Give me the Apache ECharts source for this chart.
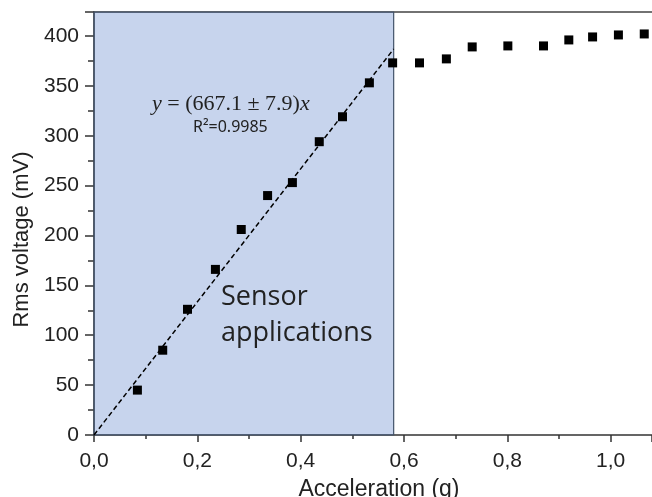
<!DOCTYPE html>
<html>
<head>
<meta charset="utf-8">
<script src="https://cdn.jsdelivr.net/npm/echarts@6/dist/echarts.min.js"></script>
<style>
  html, body { margin: 0; padding: 0; background: #fff; }
  #chart { width: 652px; height: 497px; }
</style>
</head>
<body>
<div id="chart"></div>
<script>
// Measured RMS output voltage vs. applied acceleration
const accelG = [0.084, 0.133, 0.181, 0.235, 0.285, 0.336, 0.384, 0.436, 0.481, 0.533,
                0.578, 0.630, 0.682, 0.732, 0.801, 0.870, 0.919, 0.965, 1.015, 1.065];
const rmsMV  = [45, 85, 126, 166, 206, 240, 253, 294, 319, 353,
                373, 373, 377, 389, 390, 390, 396, 399, 401, 402];

// Linear fit through the origin over the sensor-application range
const fitSlope = 667.1;
const fitRange = [0, 0.58];
const fitR2 = 'R²=0.9985';

// Highlighted linear region
const regionRange = [0, 0.58];
const regionText = ['Sensor', 'applications'];

const xTicks = { min: 0, max: 1.08, interval: 0.2 };
const yTicks = { min: 0, max: 424, interval: 50 };

const fitLine = fitRange.map(x => [x, fitSlope * x]);
const points = accelG.map((x, i) => [x, rmsMV[i]]);

const tickFont = { fontFamily: 'Liberation Sans', fontSize: 21, color: '#222' };
const axisColor = '#333';

const chart = echarts.init(document.getElementById('chart'));
chart.setOption({
  animation: false,
  grid: { left: 94, right: 0, top: 12, bottom: 62, containLabel: false, outerBoundsMode: 'none' },
  xAxis: [{
    type: 'value', min: xTicks.min, max: xTicks.max, interval: xTicks.interval,
    name: 'Acceleration (g)', nameLocation: 'middle', nameGap: 43,
    nameTextStyle: { fontFamily: 'Liberation Sans', fontSize: 23, color: '#222', padding: [0, 0, 0, 12] },
    axisLine: { show: true, lineStyle: { color: axisColor, width: 1.5 } },
    axisTick: { show: true, length: 7, lineStyle: { color: axisColor, width: 1.5 } },
    minorTick: { show: true, splitNumber: 2, length: 4, lineStyle: { color: axisColor, width: 1.5 } },
    splitLine: { show: false },
    axisLabel: Object.assign({
      margin: 16, showMaxLabel: false,
      formatter: v => v.toFixed(1).replace('.', ',')
    }, tickFont)
  }, {
    type: 'value', position: 'top', min: xTicks.min, max: xTicks.max,
    axisLine: { show: true, lineStyle: { color: '#444', width: 1.5 } },
    axisTick: { show: false }, axisLabel: { show: false }, splitLine: { show: false }
  }],
  yAxis: {
    type: 'value', min: yTicks.min, max: yTicks.max, interval: yTicks.interval,
    name: 'Rms voltage (mV)', nameLocation: 'middle', nameGap: 56,
    nameTextStyle: { fontFamily: 'Liberation Sans', fontSize: 22, color: '#222', padding: [0, 32, 0, 0] },
    axisLine: { show: true, lineStyle: { color: axisColor, width: 1.5 } },
    axisTick: { show: true, length: 9, lineStyle: { color: axisColor, width: 1.5 } },
    minorTick: { show: true, splitNumber: 2, length: 6, lineStyle: { color: axisColor, width: 1.5 } },
    splitLine: { show: false },
    axisLabel: Object.assign({ margin: 15, showMaxLabel: false }, tickFont)
  },
  series: [{
    type: 'line', data: fitLine, z: 2,
    symbol: 'none', silent: true,
    lineStyle: { color: '#000', width: 1.5, type: [5, 3] }
  }, {
    type: 'scatter', data: points, z: 2,
    symbol: 'rect', symbolSize: 9,
    itemStyle: { color: '#000', opacity: 1 }
  }, {
    // translucent band laid over the linear-response region
    type: 'line', data: [], z: 4, silent: true,
    markArea: {
      silent: true,
      itemStyle: { color: 'rgba(68,114,196,0.30)', borderColor: '#44546a', borderWidth: 1.2 },
      data: [[{ xAxis: regionRange[0], yAxis: yTicks.max }, { xAxis: regionRange[1], yAxis: yTicks.min }]]
    }
  }],
  graphic: [{
    type: 'text', left: 152, top: 93, z: 10,
    style: {
      text: '{i|y} = (667.1 ± 7.9){i|x}',
      rich: {
        i: { fontFamily: 'Liberation Serif', fontStyle: 'italic', fontSize: 22, fill: '#222' }
      },
      fontFamily: 'Liberation Serif', fontSize: 22, fill: '#222'
    }
  }, {
    type: 'text', left: 193, top: 119, z: 10,
    style: { text: fitR2, fontFamily: 'Noto Sans', fontSize: 16, fill: '#222' }
  }, {
    type: 'text', left: 221, top: 279, z: 10,
    style: { text: regionText.join('\n'), fontFamily: 'Open Sans', fontSize: 27, lineHeight: 36, fill: '#222' }
  }]
});
</script>
</body>
</html>
